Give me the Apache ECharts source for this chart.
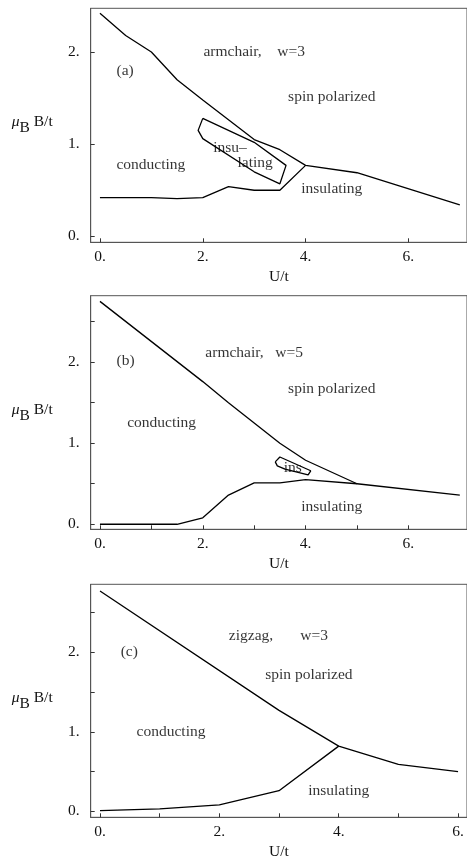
<!DOCTYPE html>
<html>
<head>
<meta charset="utf-8">
<script src="https://cdn.jsdelivr.net/npm/echarts@6/dist/echarts.min.js"></script>
<style>
  html, body { margin: 0; padding: 0; background: #fff; }
  #chart { width: 467px; height: 864px; }
</style>
</head>
<body>
<div id="chart"></div>
<script>
// (a) armchair, w=3
const xUpperA = [0, 0.5, 1, 1.5, 2, 3, 3.5, 4, 5, 7];
const yUpperA = [2.42, 2.18, 2.0, 1.70, 1.48, 1.05, 0.94, 0.77, 0.69, 0.34];
const xLowerA = [0, 1, 1.5, 2, 2.5, 3, 3.5, 4];
const yLowerA = [0.42, 0.42, 0.41, 0.42, 0.54, 0.50, 0.50, 0.77];
const xIslandA = [2.0, 1.91, 2.0, 3.0, 3.5, 3.62, 3.0, 2.0];
const yIslandA = [1.28, 1.15, 1.06, 0.70, 0.57, 0.77, 1.02, 1.28];

// (b) armchair, w=5
const xUpperB = [0, 2, 2.5, 3, 3.5, 4, 5, 7];
const yUpperB = [2.75, 1.76, 1.50, 1.25, 1.0, 0.79, 0.50, 0.36];
const xLowerB = [0, 1.5, 2, 2.5, 3, 3.5, 4, 5];
const yLowerB = [0, 0, 0.08, 0.36, 0.51, 0.51, 0.55, 0.50];
const xIslandB = [3.41, 3.5, 4.1, 4.05, 3.6, 3.45, 3.41];
const yIslandB = [0.77, 0.83, 0.66, 0.61, 0.68, 0.72, 0.77];

// (c) zigzag, w=3
const xUpperC = [0, 3, 4, 5, 6];
const yUpperC = [2.77, 1.27, 0.82, 0.59, 0.50];
const xLowerC = [0, 1, 2, 3, 4];
const yLowerC = [0.01, 0.03, 0.08, 0.26, 0.82];

// tick values
const xLabelsAB = [0, 2, 4, 6];
const xLabelsC = [0, 2, 4, 6];
const yLabels = [0, 1, 2];
const xMinorTicks = [0, 1, 2, 3, 4, 5, 6];
const yMinorTicks = [0, 0.5, 1, 1.5, 2, 2.5];

// region labels: [U/t, muB B/t, text]
const notesA = [
  [3.0, 2.0, 'armchair,    w=3'],
  [0.49, 1.80, '(a)'],
  [4.51, 1.51, 'spin polarized'],
  [0.99, 0.77, 'conducting'],
  [2.53, 0.96, 'insu\u2013'],
  [3.02, 0.80, 'lating'],
  [4.51, 0.51, 'insulating']
];
const notesB = [
  [3.0, 2.11, 'armchair,   w=5'],
  [0.5, 2.01, '(b)'],
  [4.51, 1.67, 'spin polarized'],
  [1.2, 1.25, 'conducting'],
  [3.75, 0.70, 'ins'],
  [4.51, 0.21, 'insulating']
];
const notesC = [
  [2.99, 2.21, 'zigzag,       w=3'],
  [0.49, 2.01, '(c)'],
  [3.5, 1.71, 'spin polarized'],
  [1.19, 1.0, 'conducting'],
  [4.0, 0.26, 'insulating']
];

const FONT = '"Liberation Serif", "DejaVu Serif", serif';
const zip = (xs, ys) => xs.map((x, i) => [x, ys[i]]);

let myChart = echarts.init(document.getElementById('chart'));

const panels = [
  { top: 8.3, bottom: 864 - 242.3, xmin: -0.18, xmax: 7.14, ymin: -0.065, ymax: 2.475,
    xl: xLabelsAB, xt: xLabelsAB, yt: yLabels,
    lines: [zip(xUpperA, yUpperA), zip(xLowerA, yLowerA), zip(xIslandA, yIslandA)], notes: notesA },
  { top: 295.7, bottom: 864 - 529.3, xmin: -0.18, xmax: 7.14, ymin: -0.062, ymax: 2.82,
    xl: xLabelsAB, xt: xMinorTicks, yt: yMinorTicks,
    lines: [zip(xUpperB, yUpperB), zip(xLowerB, yLowerB), zip(xIslandB, yIslandB)], notes: notesB },
  { top: 584.3, bottom: 864 - 817.3, xmin: -0.156, xmax: 6.15, ymin: -0.075, ymax: 2.855,
    xl: xLabelsC, xt: xMinorTicks, yt: yMinorTicks,
    lines: [zip(xUpperC, yUpperC), zip(xLowerC, yLowerC)], notes: notesC }
];

let grids = [], xAxes = [], yAxes = [], series = [];
panels.forEach((p, i) => {
  grids.push({
    left: 90.7, right: -6, top: p.top, bottom: p.bottom,
    show: true, borderColor: '#555', borderWidth: 1, backgroundColor: 'transparent'
  });
  xAxes.push({
    gridIndex: i, type: 'value', min: p.xmin, max: p.xmax,
    name: 'U/t', nameLocation: 'middle', nameGap: 27,
    nameTextStyle: { fontFamily: FONT, fontSize: 15.5, color: '#111' },
    axisLine: { show: true, onZero: false, lineStyle: { color: '#555', width: 1 } },
    axisTick: { show: true, inside: true, length: 4, customValues: p.xt, lineStyle: { color: '#333' } },
    axisLabel: { customValues: p.xl, margin: 7, fontFamily: FONT, fontSize: 15.5, color: '#111',
      formatter: v => v + '.' },
    splitLine: { show: false }
  });
  yAxes.push({
    gridIndex: i, type: 'value', min: p.ymin, max: p.ymax,
    name: '{mu|\u03bc}{sub|B} {t|B/t}', nameLocation: 'middle', nameRotate: 0, nameGap: 38,
    nameTextStyle: {
      fontFamily: FONT, fontSize: 15.5, color: '#111', align: 'right',
      rich: {
        mu: { fontFamily: FONT, fontSize: 15.5, fontStyle: 'italic', color: '#111', verticalAlign: 'top', lineHeight: 22 },
        sub: { fontFamily: FONT, fontSize: 15.5, color: '#111', verticalAlign: 'bottom', lineHeight: 22 },
        t: { fontFamily: FONT, fontSize: 15.5, color: '#111', verticalAlign: 'top', lineHeight: 22 }
      }
    },
    axisLine: { show: true, onZero: false, lineStyle: { color: '#555', width: 1 } },
    axisTick: { show: true, inside: true, length: 4, customValues: p.yt, lineStyle: { color: '#333' } },
    axisLabel: { customValues: yLabels, margin: 11, fontFamily: FONT, fontSize: 15.5, color: '#111',
      formatter: v => v + '.' },
    splitLine: { show: false }
  });
  p.lines.forEach(d => {
    series.push({
      type: 'line', xAxisIndex: i, yAxisIndex: i, data: d,
      showSymbol: false, symbol: 'none', silent: true,
      lineStyle: { color: '#000', width: 1.3 }
    });
  });
  series.push({
    type: 'scatter', xAxisIndex: i, yAxisIndex: i, symbolSize: 0, silent: true,
    data: p.notes.map(n => ({ value: [n[0], n[1]], name: n[2] })),
    label: {
      show: true, position: 'inside', formatter: '{b}',
      fontFamily: FONT, fontSize: 15.5, color: '#000'
    }
  });
});

let option = {
  animation: false,
  backgroundColor: '#fff',
  grid: grids,
  xAxis: xAxes,
  yAxis: yAxes,
  series: series
};
option && myChart.setOption(option);
</script>
</body>
</html>
